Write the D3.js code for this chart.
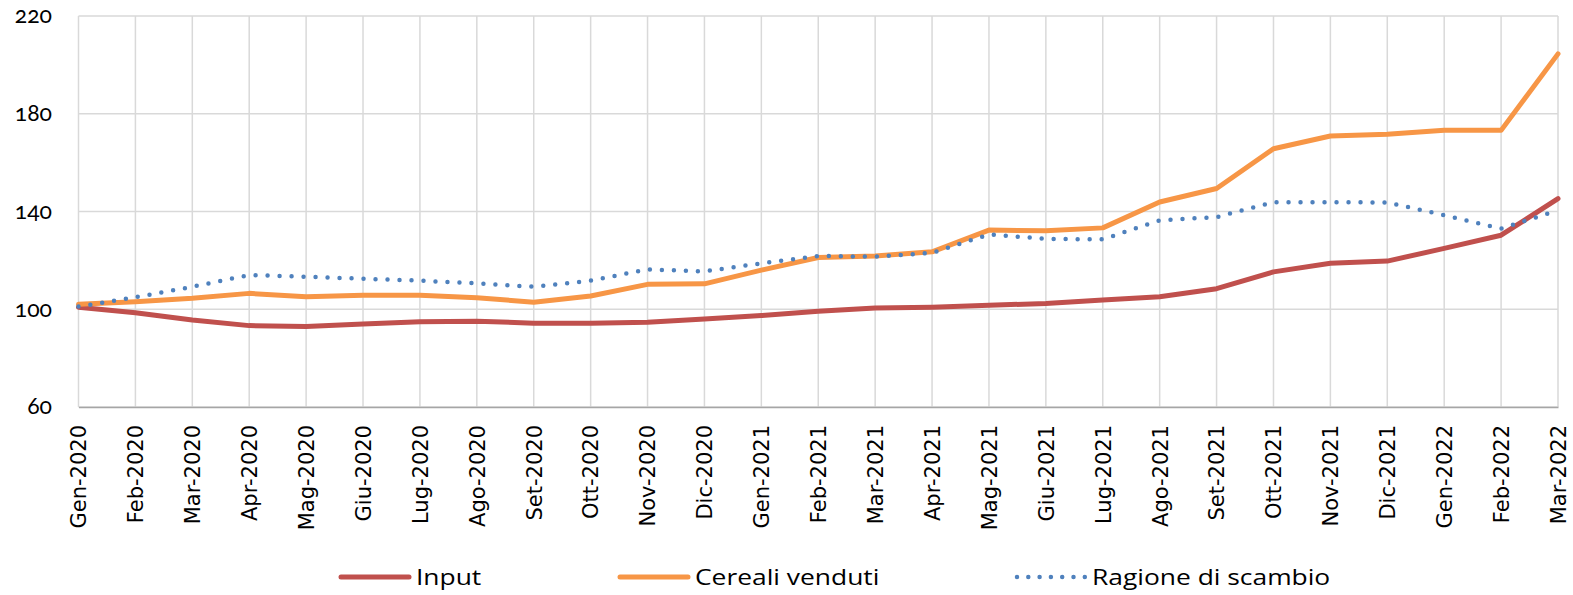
<!DOCTYPE html>
<html lang="it">
<head>
    <meta charset="UTF-8">
    <script src="https://d3js.org/d3.v7.min.js"></script>
    <title>Input, cereali venduti e ragione di scambio</title>
    <style>
        body { margin: 0; background: #fff; }
        .ytick { font-family: Lato, "Open Sans", sans-serif; font-variant-numeric: oldstyle-nums; font-feature-settings: "onum" 1; }
    </style>
</head>
<body>
    <div id="chart"></div>
    <script>
        const months = ["Gen-2020", "Feb-2020", "Mar-2020", "Apr-2020", "Mag-2020", "Giu-2020",
            "Lug-2020", "Ago-2020", "Set-2020", "Ott-2020", "Nov-2020", "Dic-2020",
            "Gen-2021", "Feb-2021", "Mar-2021", "Apr-2021", "Mag-2021", "Giu-2021",
            "Lug-2021", "Ago-2021", "Set-2021", "Ott-2021", "Nov-2021", "Dic-2021",
            "Gen-2022", "Feb-2022", "Mar-2022"];

        const input = [100.8, 98.6, 95.6, 93.3, 92.9, 94.0, 94.9, 95.1, 94.3, 94.3, 94.7, 96.0,
            97.4, 99.2, 100.5, 100.8, 101.6, 102.4, 103.8, 105.1, 108.4, 115.3, 118.8, 119.7,
            124.9, 130.3, 145.3];

        const cereali = [102.0, 103.1, 104.5, 106.5, 105.1, 105.7, 105.7, 104.7, 102.9, 105.4, 110.2, 110.4,
            116.0, 121.2, 121.8, 123.5, 132.4, 132.1, 133.3, 143.9, 149.4, 165.7, 170.9, 171.6,
            173.2, 173.2, 204.5];

        const ragione = [101.1, 104.9, 109.2, 114.0, 113.3, 112.5, 111.7, 110.6, 109.2, 111.7, 116.3, 115.5,
            118.8, 121.8, 121.5, 123.1, 130.6, 128.8, 128.6, 136.4, 137.7, 143.8, 143.8, 143.7,
            138.5, 133.0, 140.5];

        const yTicks = [60, 100, 140, 180, 220];

        const series = [
            { name: "Input", values: input, color: "#C0504D", dash: null },
            { name: "Cereali venduti", values: cereali, color: "#F79646", dash: null },
            { name: "Ragione di scambio", values: ragione, color: "#4F81BD", dash: "0 12" }
        ];

        const width = 1573, height = 595;
        const margin = { top: 16, right: 15, bottom: 188, left: 78 };

        const svg = d3.select("#chart").append("svg")
            .attr("width", width)
            .attr("height", height);

        const x = d3.scalePoint()
            .domain(months)
            .range([margin.left + 0.5, width - margin.right]);

        const y = d3.scaleLinear()
            .domain([60, 220])
            .range([height - margin.bottom, margin.top]);

        // griglia orizzontale
        svg.append("g")
            .selectAll("line")
            .data(yTicks)
            .enter()
            .append("line")
            .attr("x1", x.range()[0])
            .attr("x2", x.range()[1])
            .attr("y1", d => y(d))
            .attr("y2", d => y(d))
            .attr("stroke", "#D9D9D9")
            .attr("stroke-width", 1.5);

        // griglia verticale
        svg.append("g")
            .selectAll("line")
            .data(months)
            .enter()
            .append("line")
            .attr("x1", d => x(d))
            .attr("x2", d => x(d))
            .attr("y1", y(220))
            .attr("y2", y(60))
            .attr("stroke", "#D9D9D9")
            .attr("stroke-width", 1.5);

        // asse x
        const xAxis = svg.append("g")
            .attr("transform", `translate(0,${y(60)})`)
            .call(d3.axisBottom(x).tickSize(0).tickPadding(0));
        xAxis.select(".domain").attr("stroke", "#A6A6A6").attr("stroke-width", 1.5);
        xAxis.selectAll("text")
            .attr("font-family", "DejaVu Sans, sans-serif")
            .attr("font-size", "21px")
            .attr("fill", "#000")
            .attr("transform", "rotate(-90)")
            .attr("text-anchor", "end")
            .attr("x", -18)
            .attr("y", 0)
            .attr("dy", "0.35em");

        // asse y
        const yAxis = svg.append("g")
            .attr("transform", `translate(${margin.left},0)`)
            .call(d3.axisLeft(y).tickValues(yTicks).tickSize(0).tickPadding(26));
        yAxis.select(".domain").remove();
        yAxis.selectAll("text")
            .attr("class", "ytick")
            .style("font-size", "23px")
            .attr("fill", "#000")
            .attr("dy", "0.3em");

        const line = d3.line()
            .x((d, i) => x(months[i]))
            .y(d => y(d));

        series.forEach(s => {
            const path = svg.append("path")
                .datum(s.values)
                .attr("fill", "none")
                .attr("stroke", s.color)
                .attr("stroke-linejoin", "round")
                .attr("d", line);
            if (s.dash) {
                path.attr("stroke-width", 4.5)
                    .attr("stroke-dasharray", s.dash)
                    .attr("stroke-linecap", "round");
            } else {
                path.attr("stroke-width", 5)
                    .attr("stroke-linecap", "round");
            }
        });

        // legenda
        const legendX = [341, 620, 1017];
        const legend = svg.append("g");
        series.forEach((s, i) => {
            const g = legend.append("g").attr("transform", `translate(${legendX[i]},577)`);
            const l = g.append("line")
                .attr("x1", 0).attr("x2", 68)
                .attr("y1", 0).attr("y2", 0)
                .attr("stroke", s.color)
                .attr("stroke-linecap", "round");
            if (s.dash) {
                l.attr("stroke-width", 4.5).attr("stroke-dasharray", "0 11.3");
            } else {
                l.attr("stroke-width", 5);
            }
            g.append("text")
                .attr("transform", "translate(75,0) scale(1.2,1)")
                .attr("dy", "0.35em")
                .attr("font-family", "\"Open Sans\", sans-serif")
                .attr("font-size", "22px")
                .attr("fill", "#000")
                .text(s.name);
        });
    </script>
</body>
</html>
